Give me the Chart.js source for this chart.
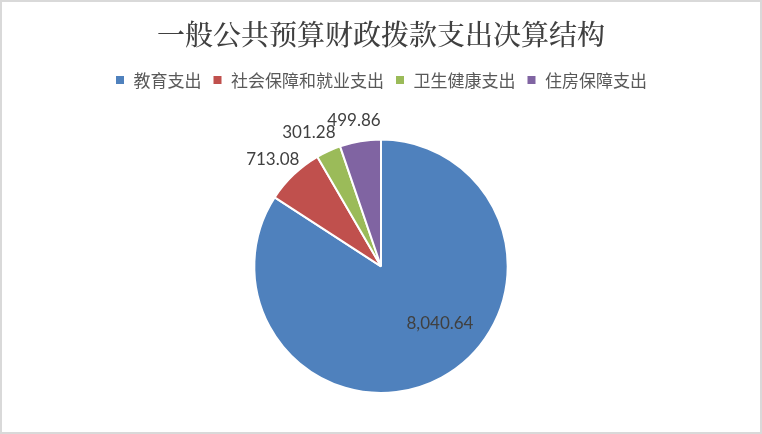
<!DOCTYPE html>
<html>
<head>
<meta charset="utf-8">
<script src="https://cdn.jsdelivr.net/npm/chart.js@4/dist/chart.umd.min.js"></script>
<style>
  html, body { margin: 0; padding: 0; background: #fff; }
  #wrap { position: relative; width: 762px; height: 434px; box-sizing: border-box; border: 2px solid #d9d9d9; }
  canvas { display: block; }
</style>
</head>
<body>
<div id="wrap"><canvas id="c" width="758" height="430"></canvas></div>
<script>
// Final accounts: general public budget appropriation spending by function
const categories = ['教育支出', '社会保障和就业支出', '卫生健康支出', '住房保障支出'];
const amounts = [8040.64, 713.08, 301.28, 499.86];
const sliceColors = ['#4F81BD', '#C0504D', '#9BBB59', '#8064A2'];

// Where each value label sits: inside the slice, or just past the rim
const labelPlacement = [
  { inside: true, radius: 0.65, turn: -0.30 },
  { inside: false, gap: 25, turn: -0.033 },
  { inside: false, gap: 25, turn: -0.068 },
  { inside: false, gap: 21.5, turn: -0.019 }
];

const fmt = v => v.toLocaleString('en-US', { minimumFractionDigits: 2, maximumFractionDigits: 2 });

const valueLabels = {
  id: 'valueLabels',
  afterDatasetsDraw(chart) {
    const ctx = chart.ctx;
    const meta = chart.getDatasetMeta(0);
    ctx.save();
    ctx.font = '17px Lato, "Open Sans", sans-serif';
    ctx.fillStyle = '#404040';
    ctx.textAlign = 'center';
    ctx.textBaseline = 'middle';
    meta.data.forEach((arc, i) => {
      const p = arc.getProps(['x', 'y', 'startAngle', 'endAngle', 'outerRadius'], true);
      const place = labelPlacement[i];
      const ang = (p.startAngle + p.endAngle) / 2 + place.turn;
      const dist = place.inside ? p.outerRadius * place.radius : p.outerRadius + place.gap;
      ctx.fillText(fmt(chart.data.datasets[0].data[i]),
        p.x + Math.cos(ang) * dist, p.y + Math.sin(ang) * dist);
    });
    ctx.restore();
  }
};

// Leave room under the legend for the labels above the pie
const legendGap = {
  id: 'legendGap',
  beforeInit(chart) {
    const fit = chart.legend.fit;
    chart.legend.fit = function () {
      fit.call(this);
      this.height += 40;
    };
  }
};

new Chart(document.getElementById('c'), {
  type: 'pie',
  data: {
    labels: categories,
    datasets: [{
      data: amounts,
      backgroundColor: sliceColors,
      borderColor: '#ffffff',
      borderWidth: 2
    }]
  },
  options: {
    responsive: false,
    animation: false,
    events: [],
    layout: { padding: { top: 0, bottom: 38, left: 0, right: 0 } },
    plugins: {
      title: {
        display: true,
        text: '一般公共预算财政拨款支出决算结构',
        color: '#404040',
        font: { family: '"Noto Serif CJK SC", "Noto Sans CJK SC", serif', size: 28, weight: 500 },
        padding: { top: 16, bottom: 9 }
      },
      legend: {
        display: true,
        position: 'top',
        labels: {
          color: '#595959',
          font: { family: '"Noto Sans CJK SC", sans-serif', size: 17 },
          boxWidth: 10,
          boxHeight: 10,
          padding: 11
        }
      },
      tooltip: { enabled: false }
    }
  },
  plugins: [valueLabels, legendGap]
});
</script>
</body>
</html>
